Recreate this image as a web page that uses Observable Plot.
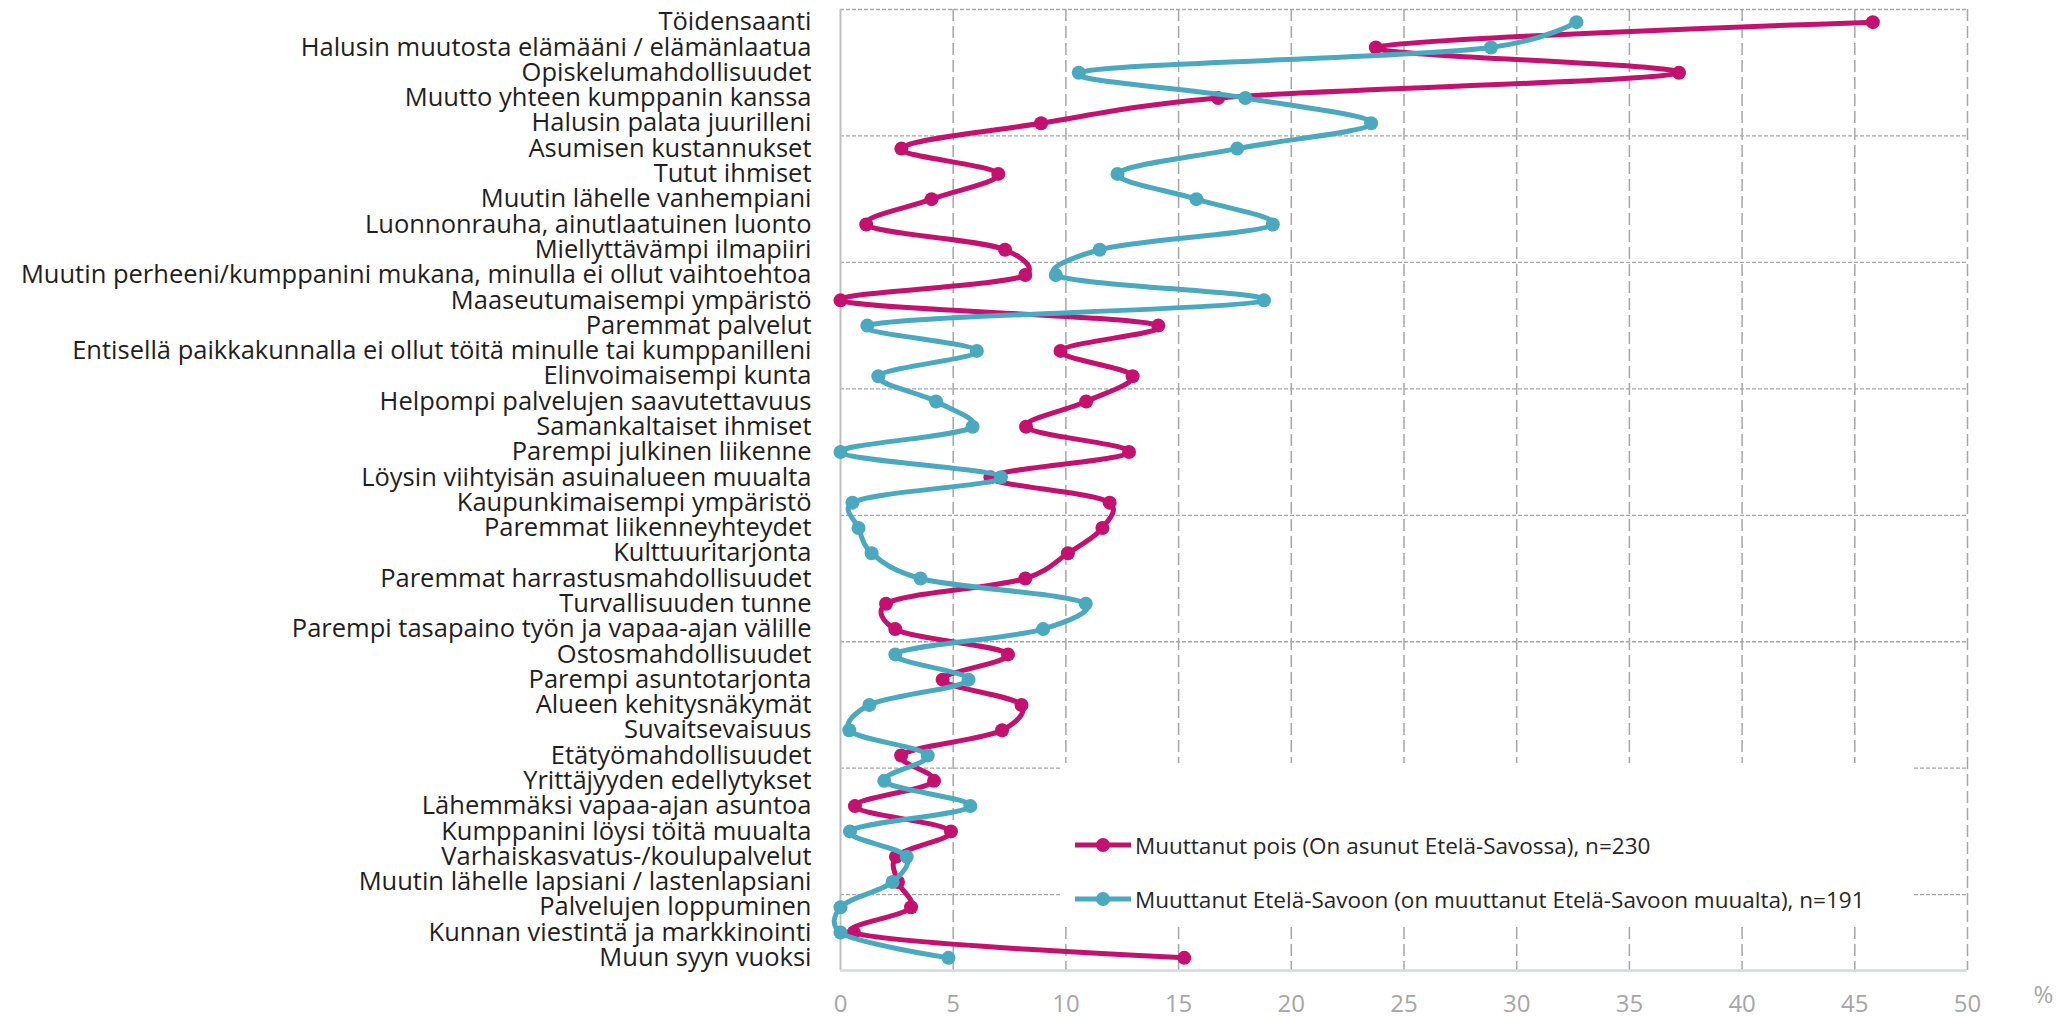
<!DOCTYPE html>
<html>
<head>
<meta charset="utf-8">
<script src="https://cdn.jsdelivr.net/npm/d3@7"></script>
<script src="https://cdn.jsdelivr.net/npm/@observablehq/plot@0.6"></script>
<style>
  html, body { margin: 0; padding: 0; background: #fff; }
  #wrap { position: relative; width: 2062px; height: 1016px; font-family: 'Open Sans', sans-serif; }
  #legend { position: absolute; left: 1061px; top: 763px; width: 852px; height: 164px; background: #fff; }
  .item { position: absolute; left: 14px; height: 30px; display: flex; align-items: center; font-size: 22.5px; color: #262626; white-space: nowrap; }
  .item svg { margin-right: 4px; }
</style>
</head>
<body>
<div id="wrap"></div>
<script>
const categories = [
  "Töidensaanti",
  "Halusin muutosta elämääni / elämänlaatua",
  "Opiskelumahdollisuudet",
  "Muutto yhteen kumppanin kanssa",
  "Halusin palata juurilleni",
  "Asumisen kustannukset",
  "Tutut ihmiset",
  "Muutin lähelle vanhempiani",
  "Luonnonrauha, ainutlaatuinen luonto",
  "Miellyttävämpi ilmapiiri",
  "Muutin perheeni/kumppanini mukana, minulla ei ollut vaihtoehtoa",
  "Maaseutumaisempi ympäristö",
  "Paremmat palvelut",
  "Entisellä paikkakunnalla ei ollut töitä minulle tai kumppanilleni",
  "Elinvoimaisempi kunta",
  "Helpompi palvelujen saavutettavuus",
  "Samankaltaiset ihmiset",
  "Parempi julkinen liikenne",
  "Löysin viihtyisän asuinalueen muualta",
  "Kaupunkimaisempi ympäristö",
  "Paremmat liikenneyhteydet",
  "Kulttuuritarjonta",
  "Paremmat harrastusmahdollisuudet",
  "Turvallisuuden tunne",
  "Parempi tasapaino työn ja vapaa-ajan välille",
  "Ostosmahdollisuudet",
  "Parempi asuntotarjonta",
  "Alueen kehitysnäkymät",
  "Suvaitsevaisuus",
  "Etätyömahdollisuudet",
  "Yrittäjyyden edellytykset",
  "Lähemmäksi vapaa-ajan asuntoa",
  "Kumppanini löysi töitä muualta",
  "Varhaiskasvatus-/koulupalvelut",
  "Muutin lähelle lapsiani / lastenlapsiani",
  "Palvelujen loppuminen",
  "Kunnan viestintä ja markkinointi",
  "Muun syyn vuoksi"
];

// Muuttanut pois (On asunut Etelä-Savossa), n=230
const muuttanutPois = [45.8, 23.75, 37.2, 16.75, 8.9, 2.7, 7.0, 4.04, 1.14, 7.3,
  8.2, 0, 14.1, 9.76, 12.96, 10.9, 8.23, 12.8, 6.65, 11.94,
  11.62, 10.09, 8.2, 2.02, 2.43, 7.43, 4.53, 8.03, 7.17, 2.69,
  4.15, 0.64, 4.9, 2.46, 2.55, 3.13, 0.59, 15.25];

// Muuttanut Etelä-Savoon (on muuttanut Etelä-Savoon muualta), n=191
const muuttanutSavoon = [32.65, 28.86, 10.57, 17.96, 23.54, 17.6, 12.29, 15.79, 19.18, 11.5,
  9.55, 18.79, 1.19, 6.05, 1.68, 4.24, 5.86, 0, 7.12, 0.53,
  0.8, 1.38, 3.55, 10.88, 8.99, 2.43, 5.68, 1.28, 0.39, 3.87,
  1.94, 5.76, 0.42, 2.94, 2.31, 0, 0, 4.79];

const seriesNames = [
  "Muuttanut pois (On asunut Etelä-Savossa), n=230",
  "Muuttanut Etelä-Savoon (on muuttanut Etelä-Savoon muualta), n=191"
];
const seriesColors = ["#c4106e", "#4aa8bf"];
const xTicks = [0, 5, 10, 15, 20, 25, 30, 35, 40, 45, 50];
const unitLabel = "%";

const rows = categories.map((c, i) => ({i, cat: c, pois: muuttanutPois[i], savoon: muuttanutSavoon[i]}));
const n = categories.length;
const groupLines = d3.range(-0.5, n - 1, 5);

const chart = Plot.plot({
  width: 2062,
  height: 1016,
  marginLeft: 840,
  marginRight: 95,
  marginTop: 9,
  marginBottom: 46,
  style: {fontFamily: "'Open Sans', sans-serif", background: "#fff", overflow: "visible"},
  x: {domain: [0, 50], label: null},
  y: {domain: [-0.5, n - 0.5], reverse: true, label: null},
  marks: [
    Plot.ruleX(xTicks.slice(1), {stroke: "#a6a6a6", strokeWidth: 1.5, strokeDasharray: "12,5", strokeOpacity: 1}),
    Plot.ruleY(groupLines, {stroke: "#a6a6a6", strokeWidth: 1.3, strokeDasharray: "4,2", strokeOpacity: 1}),
    Plot.ruleX([0], {stroke: "#bfbfbf", strokeWidth: 2}),
    Plot.ruleY([n - 0.5], {stroke: "#d3dadd", strokeWidth: 2.5}),
    Plot.axisX({ticks: xTicks, tickSize: 0, tickPadding: 24, fontSize: 24, color: "#a6a6a6", fill: "#a6a6a6", label: null}),
    Plot.axisY({ticks: d3.range(n), tickFormat: i => categories[i], tickSize: 0, tickPadding: 29, fontSize: 25.5, fill: "#1f1f1f", label: null}),
    Plot.text([unitLabel], {frameAnchor: "bottom-right", dx: 76, dy: 32, fontSize: 24, fill: "#a6a6a6", textAnchor: "middle"}),
    Plot.line(rows, {x: "pois", y: "i", stroke: seriesColors[0], strokeWidth: 5, curve: "catmull-rom", tension: 0.25}),
    Plot.dot(rows, {x: "pois", y: "i", r: 7, fill: seriesColors[0], stroke: "none"}),
    Plot.line(rows, {x: "savoon", y: "i", stroke: seriesColors[1], strokeWidth: 5, curve: "catmull-rom", tension: 0.25}),
    Plot.dot(rows, {x: "savoon", y: "i", r: 7, fill: seriesColors[1], stroke: "none"})
  ]
});

const wrap = document.getElementById("wrap");
wrap.appendChild(chart);

const legend = document.createElement("div");
legend.id = "legend";
const centers = [82, 136];
seriesNames.forEach((name, k) => {
  const item = document.createElement("div");
  item.className = "item";
  item.style.top = (centers[k] - 15) + "px";
  item.innerHTML = `<svg width="56" height="16"><line x1="0" x2="56" y1="8" y2="8" stroke="${seriesColors[k]}" stroke-width="5"/><circle cx="28" cy="8" r="7" fill="${seriesColors[k]}"/></svg><span>${name}</span>`;
  legend.appendChild(item);
});
wrap.appendChild(legend);
</script>
</body>
</html>
